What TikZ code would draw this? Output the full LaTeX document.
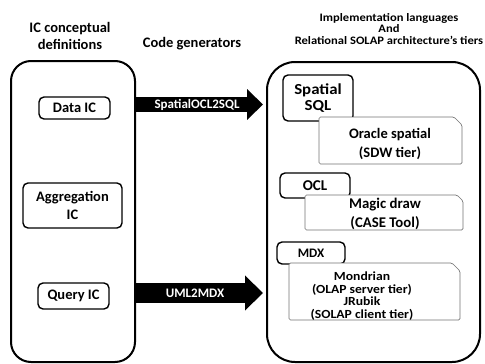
\documentclass[tikz,border=0pt]{standalone}
\usepackage{fontspec}
\setmainfont{Carlito}
\newfontfamily\hdfont{Carlito}[FakeStretch=1.1]
\usetikzlibrary{arrows.meta}
\newcommand\fsz[2]{\fontsize{#1}{#2}\selectfont}
\newcommand\snipbox[6]{%
  \filldraw[snipline] (#2,#3) -- (#4-#6,#3) -- (#4,#3+#6) -- (#4,#5) -- (#2,#5) -- cycle;
  \coordinate (#1) at ({(#2+#4)/2},{(#3+#5)/2});}
\begin{document}
\begin{tikzpicture}[x=1pt,y=-1pt,
  bigbox/.style={draw=black, line width=2pt},
  lbl/.style={font=\bfseries, align=center, inner sep=0pt},
  icbox/.style={draw=black, line width=1.4pt, rounded corners=5pt, fill=white, align=center, inner sep=0pt},
  snipline/.style={draw=black!55, line width=0.7pt, fill=white, rounded corners=1.5pt},
  fat/.style={draw=black}
]
\useasboundingbox (0,0) rectangle (485,364);
% big containers
\node[bigbox, rounded corners=20pt, minimum width=124pt, minimum height=301pt] (L) at (73,211.5) {};
\node[bigbox, rounded corners=28pt, minimum width=213pt, minimum height=300pt] (R) at (373.5,212) {};
% headers
\node[lbl, font=\bfseries\fsz{14.5}{16.5}] (h1) at (70,36) {IC conceptual\\definitions};
\node[lbl, font=\bfseries\fsz{14.5}{16.5}] (h2) at (192,44) {Code generators};
\node[lbl, font=\hdfont\bfseries\fsz{11.4}{11.7}] (h3) at (389,29) {Implementation languages\\And\\Relational SOLAP architecture’s tiers};
% IC boxes
\node[icbox, font=\bfseries\fsz{14.5}{18}, minimum width=71pt, minimum height=22pt] (data) at (74.5,108) {Data IC};
\node[icbox, font=\bfseries\fsz{14.5}{18}, minimum width=99pt, minimum height=45pt] (agg) at (72.5,205.5) {Aggregation\\IC};
\node[icbox, font=\bfseries\fsz{14.5}{18}, minimum width=71pt, minimum height=26pt] (query) at (73.5,296) {Query IC};
% arrows
\coordinate (a1s) at (135,104.5);
\coordinate (a1e) at (263,104.5);
\draw[fat, line width=15pt, -{Triangle[length=16pt,width=30pt]}] (a1s) -- (a1e);
\node[lbl, text=white, font=\bfseries\fsz{13}{15}] (g1) at (197,105) {SpatialOCL2SQL};
\coordinate (a2s) at (135,293);
\coordinate (a2e) at (263,293);
\draw[fat, line width=20pt, -{Triangle[length=18pt,width=34pt]}] (a2s) -- (a2e);
\node[lbl, text=white, font=\bfseries\fsz{13}{15}] (g2) at (195,293) {UML2MDX};
% right side
\node[icbox, font=\hdfont\bfseries\fsz{15.3}{16.5}, minimum width=70pt, minimum height=46pt] (ssql) at (318,98) {Spatial\\SQL};
\snipbox{orab}{319}{117}{462}{164}{8}
\node[lbl, font=\bfseries\fsz{14.5}{18.5}] (ora) at (390,144) {Oracle spatial\\(SDW tier)};
\node[icbox, font=\bfseries\fsz{15}{17}, minimum width=70pt, minimum height=25pt] (ocl) at (315,185.5) {OCL};
\snipbox{magb}{305}{195}{463}{230}{6}
\node[lbl, font=\bfseries\fsz{14.8}{19}] (mag) at (385,213.5) {Magic draw\\(CASE Tool)};
\node[icbox, font=\bfseries\fsz{13}{15}, minimum width=68pt, minimum height=22pt] (mdx) at (311,253) {MDX};
\snipbox{monb}{289}{263}{460}{320}{8}
\node[lbl, font=\hdfont\bfseries\fsz{12.4}{12.8}] (mon) at (362,296) {Mondrian\\(OLAP server tier)\\JRubik\\(SOLAP client tier)};
\end{tikzpicture}
\end{document}
